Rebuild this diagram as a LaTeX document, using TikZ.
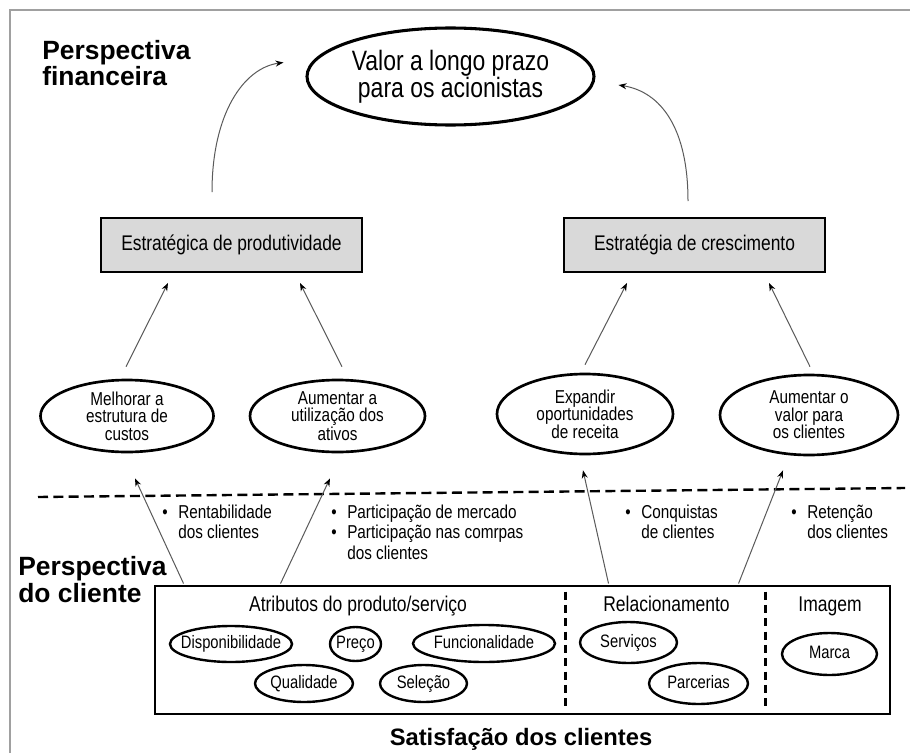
\documentclass[tikz,border=0pt]{standalone}
\usepackage{fontspec}
\setmainfont{Liberation Sans}
\newfontfamily\narrow[FakeStretch=0.82]{Liberation Sans}
\usetikzlibrary{shapes.geometric,arrows.meta,calc}
\definecolor{boxgray}{RGB}{217,217,217}
\definecolor{framegray}{RGB}{160,160,160}
\definecolor{arrowgray}{RGB}{90,90,90}
\newcommand\mybul{\makebox[12pt][l]{\textbullet}}
\begin{document}
\begin{tikzpicture}[x=0.75pt,y=-0.75pt,
  oval/.style={draw, ellipse, line width=2pt, inner sep=-40pt, align=center,
    font={\narrow\fontsize{14pt}{13.1pt}\selectfont}},
  bigoval/.style={oval, line width=2.3pt, font={\narrow\fontsize{21pt}{20pt}\selectfont}},
  smalloval/.style={draw, ellipse, line width=1.8pt, inner sep=-40pt, text height=9.8pt, text depth=2.9pt,
    font={\narrow\fontsize{13.5pt}{15pt}\selectfont}},
  stratbox/.style={draw, fill=boxgray, line width=1.5pt, minimum width=195.75pt,
    minimum height=40.5pt, inner sep=0pt, font={\narrow\fontsize{15.9pt}{18pt}\selectfont}},
  conn/.style={draw=arrowgray, line width=0.75pt, -{Stealth[length=6pt,width=4.5pt,color=black]}},
  bul/.style={anchor=base west, inner sep=0pt, font={\narrow\fontsize{14pt}{15.4pt}\selectfont}},
  hdr/.style={anchor=base, inner sep=0pt, font={\narrow\fontsize{16pt}{18pt}\selectfont}},
  sepline/.style={line width=1.8pt, dash pattern=on 7.5pt off 4pt},
  divider/.style={line width=1.8pt, dash pattern=on 6pt off 4pt},
]
\useasboundingbox (0,0) rectangle (910,753);
\fill[white] (0,0) rectangle (910,753);
\draw[framegray, line width=1.5pt] (10,753) -- (10,10) -- (910,10);

% titles
\node[anchor=base west, inner sep=0pt, font={\fontsize{19.8pt}{18.4pt}\selectfont\bfseries}] (tfin) at (42,59)
  {\begin{tabular}[t]{@{}l@{}}Perspectiva\\financeira\end{tabular}};
\node[anchor=base west, inner sep=0pt, font={\fontsize{19.8pt}{20.3pt}\selectfont\bfseries}] (tcli) at (18,575)
  {\begin{tabular}[t]{@{}l@{}}Perspectiva\\do cliente\end{tabular}};
\node[anchor=base, inner sep=0pt, font={\fontsize{17.8pt}{20pt}\selectfont\bfseries}] (tsat) at (521,745)
  {Satisfação dos clientes};

% top
\node[bigoval, minimum width=215.25pt, minimum height=72.75pt] (valor) at (450.5,76.5)
  {Valor a longo prazo\\para os acionistas};
\node[stratbox] (prod) at (231.5,245) {Estratégica de produtividade};
\node[stratbox] (grow) at (694.5,245) {Estratégia de crescimento};

\draw[conn] ($(prod.north)+(-19.5,-25)$) .. controls ($(prod.north)+(-19.5,-103)$) and ($(valor.west)+(-62,-8.5)$) .. ($(valor.west)+(-22,-14)$);
\draw[conn] ($(grow.north)+(-6.5,-16)$) .. controls ($(grow.north)+(-6.5,-88)$) and ($(valor.east)+(66,15.5)$) .. ($(valor.east)+(23,8.5)$);

% objectives
\node[oval, minimum width=129.75pt, minimum height=54pt] (e1) at (127,416) {Melhorar a\\estrutura de\\custos};
\node[oval, minimum width=131.25pt, minimum height=54pt] (e2) at (337.5,416) {Aumentar a\\utilização dos\\ativos};
\node[oval, minimum width=132pt, minimum height=60pt] (e3) at (585,414) {Expandir\\oportunidades\\de receita};
\node[oval, minimum width=133.5pt, minimum height=60pt] (e4) at (809,415) {Aumentar o\\valor para\\os clientes};

\draw[conn] ($(e1.north)+(-1,-12)$) -- ($(prod.south)+(-63.5,10)$);
\draw[conn] ($(e2.north)+(4.5,-12)$) -- ($(prod.south)+(68.5,10)$);
\draw[conn] ($(e3.north)+(0,-8)$) -- ($(grow.south)+(-67.5,10)$);
\draw[conn] ($(e4.north)+(1,-7)$) -- ($(grow.south)+(74.5,10)$);

% separator
\coordinate (sepL) at (38,497);
\coordinate (sepR) at (905,488);
\draw[sepline] (sepL) -- (sepR);

% customer box
\node[draw, line width=2.2pt, minimum width=551.25pt, minimum height=96pt, inner sep=0pt] (cust) at (522.5,650) {};
\draw[divider] ($(cust.north west)+(412,7)$) -- ($(cust.south west)+(412,-5)$);
\draw[divider] ($(cust.north west)+(612,7)$) -- ($(cust.south west)+(612,-5)$);

\node[hdr] (hattr) at (358,611) {Atributos do produto/serviço};
\node[hdr] (hrel) at (666.5,611) {Relacionamento};
\node[hdr] (himg) at (830,611) {Imagem};

\node[smalloval, minimum width=91.5pt, minimum height=27pt] (disp) at (231,644) {Disponibilidade};
\node[smalloval, minimum width=38.25pt, minimum height=25.5pt] (preco) at (355.5,644) {Preço};
\node[smalloval, minimum width=106.5pt, minimum height=27.75pt] (func) at (484,643.5) {Funcionalidade};
\node[smalloval, minimum width=73.5pt, minimum height=27.75pt] (qual) at (304,683.5) {Qualidade};
\node[smalloval, minimum width=65.25pt, minimum height=27.75pt] (sele) at (423.5,683.5) {Seleção};
\node[smalloval, minimum width=72.75pt, minimum height=30.75pt] (serv) at (628.5,642.5) {Serviços};
\node[smalloval, minimum width=74.25pt, minimum height=30.75pt] (parc) at (698.5,683.5) {Parcerias};
\node[smalloval, minimum width=71.25pt, minimum height=31.5pt] (marca) at (829.5,654) {Marca};

% lower arrows
\draw[conn] ($(cust.north west)+(30,-1)$) -- ($(e1.south)+(8,25)$);
\draw[conn] ($(cust.north west)+(127,-1)$) -- ($(e2.south)+(-7.5,25)$);
\draw[conn] ($(cust.north west)+(455,-1)$) -- ($(e3.south)+(-2,15)$);
\draw[conn] ($(cust.north west)+(585,-1)$) -- ($(e4.south)+(-26,14)$);

% bullet texts
\node[bul] (b1) at (162,518) {\begin{tabular}[t]{@{}l@{}}\mybul Rentabilidade\\\hspace*{12pt}dos clientes\end{tabular}};
\node[bul] (b2) at (331,518) {\begin{tabular}[t]{@{}l@{}}\mybul Participação de mercado\\\mybul Participação nas comrpas\\\hspace*{12pt}dos clientes\end{tabular}};
\node[bul] (b3) at (625,518) {\begin{tabular}[t]{@{}l@{}}\mybul Conquistas\\\hspace*{12pt}de clientes\end{tabular}};
\node[bul] (b4) at (791,518) {\begin{tabular}[t]{@{}l@{}}\mybul Retenção\\\hspace*{12pt}dos clientes\end{tabular}};
\end{tikzpicture}
\end{document}
